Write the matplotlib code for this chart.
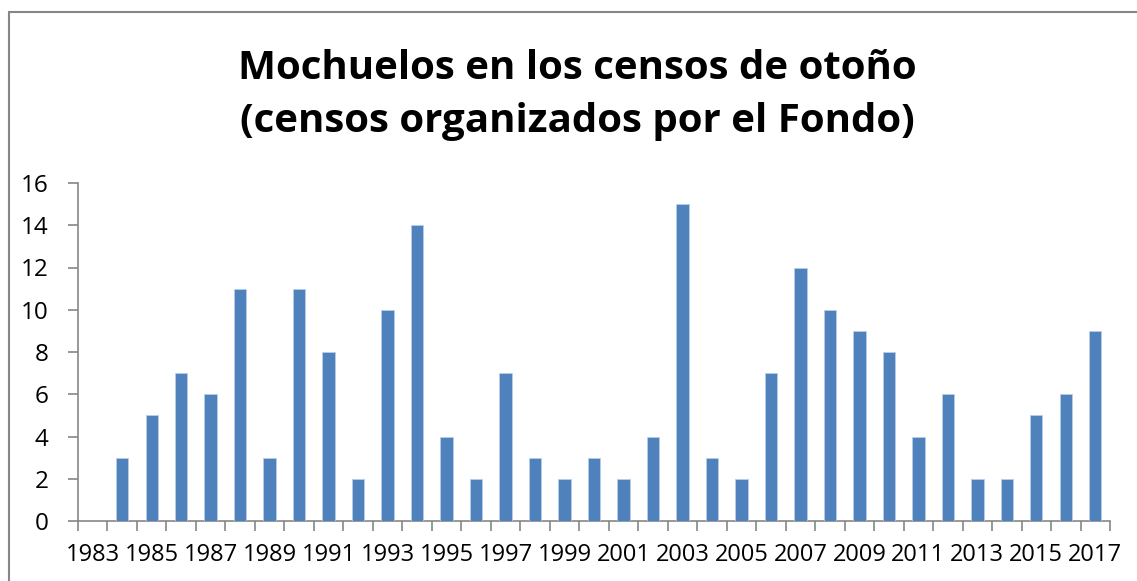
import matplotlib.pyplot as plt
import matplotlib.patches as patches
import numpy as np

years = list(range(1983, 2018))
mochuelos = [0, 3, 5, 7, 6, 11, 3, 11, 8, 2, 10, 14, 4, 2, 7, 3, 2, 3, 2, 4,
             15, 3, 2, 7, 12, 10, 9, 8, 4, 6, 2, 2, 5, 6, 9]

plt.rcParams['font.family'] = ['Open Sans', 'DejaVu Sans']

W, H = 1137, 581
fig = plt.figure(figsize=(W / 100, H / 100), dpi=100)
ax = fig.add_axes([78 / W, 1 - 521 / H, 1032 / W, 338 / H])

# borde del gráfico (recortado a la derecha y abajo, como en el original)
fig.patches.append(patches.Rectangle((8.5 / W, -0.05), 1.2, 1 - 12.5 / H + 0.05,
                                     transform=fig.transFigure, fill=False,
                                     edgecolor='#868686', linewidth=1.5))

x = np.arange(len(years))
ax.bar(x, mochuelos, width=0.42, color='#4F81BD', edgecolor='#B9CDE5',
       linewidth=0.6, zorder=3)

ax.set_xlim(-0.5, len(years) - 0.5)
ax.set_ylim(0, 16)
ax.set_yticks(range(0, 17, 2))

# marcas en los límites de categoría, etiquetas cada dos años
ax.set_xticks(np.arange(-0.5, len(years)))
ax.set_xticklabels([])
ax.set_xticks(x[::2], minor=True)
ax.set_xticklabels([str(y) for y in years[::2]], minor=True)
ax.tick_params(axis='x', which='major', length=7, color='#868686', width=1.2)
ax.tick_params(axis='x', which='minor', length=0, labelsize=17, pad=16)
ax.tick_params(axis='y', length=7, color='#868686', width=1.2, labelsize=17.5, pad=14)

for s in ['top', 'right']:
    ax.spines[s].set_visible(False)
for s in ['left', 'bottom']:
    ax.spines[s].set_color('#868686')
    ax.spines[s].set_linewidth(1.2)

fig.text(0.508, 1 - 95 / H, 'Mochuelos en los censos de otoño\n(censos organizados por el Fondo)',
         ha='center', va='center', fontsize=29, fontweight='bold', linespacing=1.45)

fig.savefig('out.png', dpi=100)
